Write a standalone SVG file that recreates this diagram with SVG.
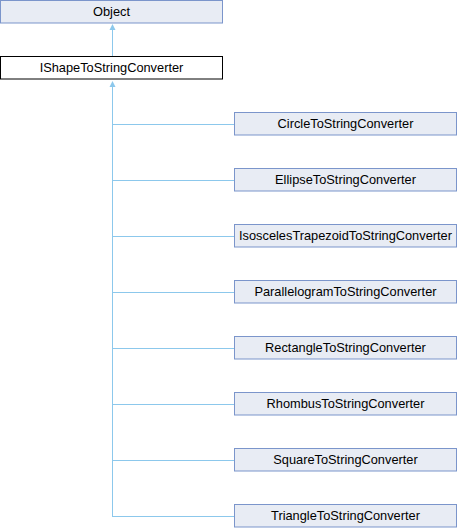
<svg xmlns="http://www.w3.org/2000/svg" width="458" height="528" viewBox="0 0 458 528">
<style>
.node rect{fill:#e8ecf4;stroke:#7b95cb;stroke-width:1}
.node.cur rect{fill:#ffffff;stroke:#000000}
.node text{font-family:"Liberation Sans",Arial,sans-serif;font-size:12.8px;fill:#000000;text-anchor:middle}
.edges line{stroke:#8cc8ec;stroke-width:1;fill:none}
.edges path{fill:#8cc8ec;stroke:none}
</style>
<rect x="0" y="0" width="458" height="528" fill="#ffffff"/>
<g class="edges" id="connectors">
<line x1="112.5" y1="28" x2="112.5" y2="56"/>
<path d="M112.5,24 L115.5,30 L109.5,30 Z"/>
<line x1="112.5" y1="86" x2="112.5" y2="516.5"/>
<path d="M112.5,81 L115.5,87 L109.5,87 Z"/>
<line x1="112" y1="124.5" x2="234" y2="124.5"/>
<line x1="112" y1="180.5" x2="234" y2="180.5"/>
<line x1="112" y1="236.5" x2="234" y2="236.5"/>
<line x1="112" y1="292.5" x2="234" y2="292.5"/>
<line x1="112" y1="348.5" x2="234" y2="348.5"/>
<line x1="112" y1="404.5" x2="234" y2="404.5"/>
<line x1="112" y1="460.5" x2="234" y2="460.5"/>
<line x1="112" y1="516.5" x2="234" y2="516.5"/>
</g>
<g class="node" id="node-object"><rect x="0.5" y="0.5" width="222" height="22.5"/><text x="111.5" y="16">Object</text></g>
<g class="node cur" id="node-ishape"><rect x="0.5" y="56.5" width="222" height="22.5"/><text x="111.5" y="72">IShapeToStringConverter</text></g>
<g class="node" id="node-circle"><rect x="234.5" y="112.5" width="222" height="22.5"/><text x="345.5" y="128">CircleToStringConverter</text></g>
<g class="node" id="node-ellipse"><rect x="234.5" y="168.5" width="222" height="22.5"/><text x="345.5" y="184">EllipseToStringConverter</text></g>
<g class="node" id="node-isosceles"><rect x="234.5" y="224.5" width="222" height="22.5"/><text x="345.5" y="240">IsoscelesTrapezoidToStringConverter</text></g>
<g class="node" id="node-parallelogram"><rect x="234.5" y="280.5" width="222" height="22.5"/><text x="345.5" y="296">ParallelogramToStringConverter</text></g>
<g class="node" id="node-rectangle"><rect x="234.5" y="336.5" width="222" height="22.5"/><text x="345.5" y="352">RectangleToStringConverter</text></g>
<g class="node" id="node-rhombus"><rect x="234.5" y="392.5" width="222" height="22.5"/><text x="345.5" y="408">RhombusToStringConverter</text></g>
<g class="node" id="node-square"><rect x="234.5" y="448.5" width="222" height="22.5"/><text x="345.5" y="464">SquareToStringConverter</text></g>
<g class="node" id="node-triangle"><rect x="234.5" y="504.5" width="222" height="22.5"/><text x="345.5" y="520">TriangleToStringConverter</text></g>
</svg>
